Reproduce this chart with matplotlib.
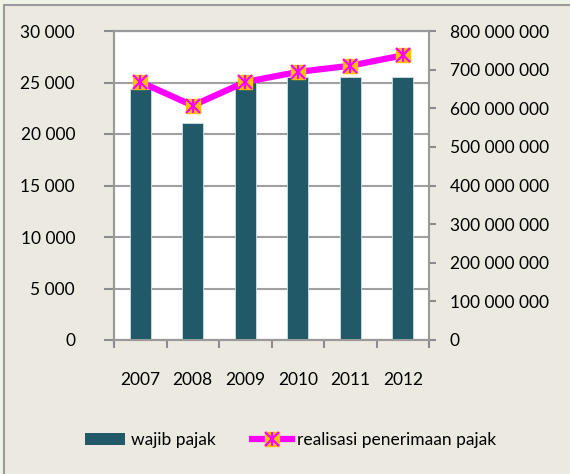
import matplotlib.pyplot as plt
from matplotlib.patches import Rectangle, Patch
from matplotlib.lines import Line2D
from matplotlib.ticker import FuncFormatter

years = ['2007', '2008', '2009', '2010', '2011', '2012']
wajib_pajak = [24400, 21100, 25100, 25500, 25500, 25500]
realisasi = [668e6, 607e6, 668e6, 694e6, 710e6, 737e6]

plt.rcParams['font.family'] = ['Lato', 'DejaVu Sans']
plt.rcParams['font.size'] = 12.5

def fmt(v, pos):
    return '{:,}'.format(int(round(v))).replace(',', ' ')

fig = plt.figure(figsize=(5.7, 4.74), dpi=100)
fig.patch.set_facecolor('#EEF3E6')
# chart area with grey border (cut off on right and bottom)
fig.patches.append(Rectangle((4 / 570, -0.05), 1.0, 1 - 5 / 474 + 0.05,
                             transform=fig.transFigure, facecolor='#ECEAE0',
                             edgecolor='#9A9A9A', linewidth=1.5, zorder=-5))

ax = fig.add_axes([114 / 570, 1 - 340 / 474, 315 / 570, 309 / 474])
ax.set_facecolor('white')
x = list(range(len(years)))
ax.bar(x, wajib_pajak, width=0.4, color='#215968', edgecolor='#CFE0E6',
       linewidth=0.6, zorder=3)
ax.set_xlim(-0.5, 5.5)
ax.set_ylim(0, 30000)
ax.set_yticks(range(0, 30001, 5000))
ax.yaxis.set_major_formatter(FuncFormatter(fmt))
ax.grid(axis='y', color='#A0A0A0', linewidth=1.5, zorder=1)
ax.set_axisbelow(True)
ax.set_xticks([i + 0.5 for i in range(-1, 6)])
ax.set_xticklabels([])
for i, y in enumerate(years):
    ax.text(i, -0.13, y, transform=ax.get_xaxis_transform(), ha='center',
            va='center')
ax.tick_params(axis='x', length=6, width=1.5, color='#8C8C8C')
ax.tick_params(axis='y', length=7, width=1.5, color='#8C8C8C', pad=21)
for s in ax.spines.values():
    s.set_color('#9A9A9A')
    s.set_linewidth(1.5)
ax.spines['right'].set_visible(False)

ax2 = ax.twinx()
ax2.plot(x, realisasi, color='#FF00FF', linewidth=4.5, zorder=4)
ax2.plot(x, realisasi, linestyle='none', marker='s', markersize=10,
         markerfacecolor='#FFC000', markeredgecolor='#FFC000', zorder=5)
ax2.plot(x, realisasi, linestyle='none', marker='x', markersize=10,
         markeredgewidth=1.6, color='#FF00FF', zorder=6)
ax2.plot(x, realisasi, linestyle='none', marker='|', markersize=10,
         markeredgewidth=1.6, color='#FF00FF', zorder=6)
ax2.set_ylim(0, 800e6)
ax2.set_yticks([i * 100e6 for i in range(9)])
ax2.yaxis.set_major_formatter(FuncFormatter(fmt))
ax2.tick_params(axis='y', length=5, width=1.5, color='#8C8C8C', pad=10)
for s in ax2.spines.values():
    s.set_color('#9A9A9A')
    s.set_linewidth(1.5)

h_bar = Patch(facecolor='#215968')
h_line = (Line2D([], [], color='#FF00FF', linewidth=4.5),
          Line2D([], [], linestyle='none', marker='s', markersize=10,
                 markerfacecolor='#FFC000', markeredgecolor='#FFC000'),
          Line2D([], [], linestyle='none', marker='x', markersize=10,
                 markeredgewidth=1.6, color='#FF00FF'),
          Line2D([], [], linestyle='none', marker='|', markersize=10,
                 markeredgewidth=1.6, color='#FF00FF'))
fig.legend([h_bar, h_line], ['wajib pajak', 'realisasi penerimaan pajak'],
           loc='center', bbox_to_anchor=(0.51, 1 - 440 / 474), ncol=2,
           frameon=False, handlelength=2.3, handletextpad=0.3,
           columnspacing=2.1)

fig.savefig('out.png', dpi=100)
